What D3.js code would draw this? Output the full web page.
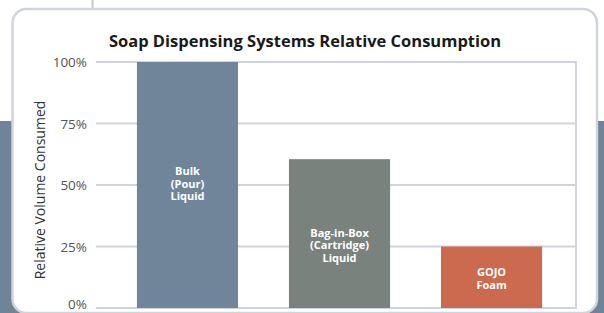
<!DOCTYPE html>
<html>
  <head>
    <meta charset="UTF-8">
    <title>Soap Dispensing Systems Relative Consumption</title>
    <script src="https://d3js.org/d3.v7.min.js"></script>
    <style>
      body { margin: 0; background: #fff; }
      svg { display: block; }
      .tick text { font-family: "Open Sans", sans-serif; font-size: 13.5px; fill: #555; }
      .bar-label { font-family: "Open Sans", sans-serif; font-size: 11px; font-weight: 700; fill: #fff; }
    </style>
  </head>
  <body>
    <div id="chart"></div>
    <script>
      // data
      const categories = ["Bulk (Pour) Liquid", "Bag-in-Box (Cartridge) Liquid", "GOJO Foam"];
      const labelLines = [["Bulk", "(Pour)", "Liquid"], ["Bag-in-Box", "(Cartridge)", "Liquid"], ["GOJO", "Foam"]];
      const values = [100, 60.5, 25];
      const labelAt = [50.5, 25.5, 12];
      const yTicks = [0, 25, 50, 75, 100];
      const colors = ["#708599", "#79827d", "#cb6a4e"];

      const width = 604;
      const height = 313;
      const plot = { left: 96, right: 576, top: 62, bottom: 308 };

      const svg = d3.select("#chart")
        .append("svg")
        .attr("width", width)
        .attr("height", height);

      // page background behind the card
      svg.append("rect")
        .attr("x", 0).attr("y", 121)
        .attr("width", width).attr("height", height - 121)
        .attr("fill", "#6f8497");

      svg.append("line")
        .attr("x1", 92.5).attr("x2", 92.5)
        .attr("y1", 0).attr("y2", 10)
        .attr("stroke", "#c3c9d1").attr("stroke-width", 2);

      // card
      svg.append("rect")
        .attr("x", 12.5).attr("y", 9)
        .attr("width", 584.5).attr("height", 304)
        .attr("rx", 14)
        .attr("fill", "#fff")
        .attr("stroke", "#d0d5dd")
        .attr("stroke-width", 2.5);

      svg.append("text")
        .attr("x", 305)
        .attr("y", 47)
        .attr("text-anchor", "middle")
        .attr("font-family", "'Open Sans', sans-serif")
        .attr("font-size", 16.5)
        .attr("font-weight", 700)
        .attr("fill", "#1a1a1a")
        .text("Soap Dispensing Systems Relative Consumption");

      const x = d3.scaleBand()
        .domain(categories)
        .range([plot.left, plot.right])
        .paddingInner(0.335)
        .paddingOuter(0.246)
        .align(0.547);

      const y = d3.scaleLinear()
        .domain([0, 100])
        .range([plot.bottom, plot.top]);

      // gridlines
      svg.append("g")
        .selectAll("line")
        .data(yTicks)
        .join("line")
        .attr("x1", plot.left)
        .attr("x2", plot.right)
        .attr("y1", d => y(d))
        .attr("y2", d => y(d))
        .attr("stroke", "#cfd4dd")
        .attr("stroke-width", 2);

      svg.append("line")
        .attr("x1", plot.right).attr("x2", plot.right)
        .attr("y1", y(100) - 1).attr("y2", y(0) + 1)
        .attr("stroke", "#cfd4dd")
        .attr("stroke-width", 2);

      // y axis labels
      const yAxis = svg.append("g")
        .attr("transform", `translate(${plot.left - 3},0)`)
        .call(d3.axisLeft(y).tickValues(yTicks).tickFormat(d => d + "%").tickSize(0).tickPadding(6));
      yAxis.select(".domain").remove();
      yAxis.selectAll(".tick text")
        .attr("dy", "0.34em")
        .attr("y", d => d === 0 ? -4 : 0);

      svg.append("text")
        .attr("transform", `translate(45, ${(plot.top + plot.bottom) / 2 + 5}) rotate(-90)`)
        .attr("text-anchor", "middle")
        .attr("font-family", "'Open Sans', sans-serif")
        .attr("font-size", 14)
        .attr("fill", "#333")
        .text("Relative Volume Consumed");

      // bars
      svg.append("g")
        .selectAll("rect")
        .data(values)
        .join("rect")
        .attr("x", (d, i) => x(categories[i]))
        .attr("y", d => y(d))
        .attr("width", x.bandwidth())
        .attr("height", d => y(0) - y(d))
        .attr("fill", (d, i) => colors[i]);

      // bar labels
      const lineH = 12.4;
      const labels = svg.append("g")
        .selectAll("text")
        .data(labelLines)
        .join("text")
        .attr("class", "bar-label")
        .attr("text-anchor", "middle")
        .attr("x", (d, i) => x(categories[i]) + x.bandwidth() / 2)
        .attr("y", (d, i) => y(labelAt[i]) - (d.length - 1) * lineH / 2 + 4);

      labels.selectAll("tspan")
        .data((d, i) => d.map(t => ({ t, i })))
        .join("tspan")
        .attr("x", d => x(categories[d.i]) + x.bandwidth() / 2)
        .attr("dy", (d, j) => j === 0 ? 0 : lineH)
        .text(d => d.t);
    </script>
  </body>
</html>
